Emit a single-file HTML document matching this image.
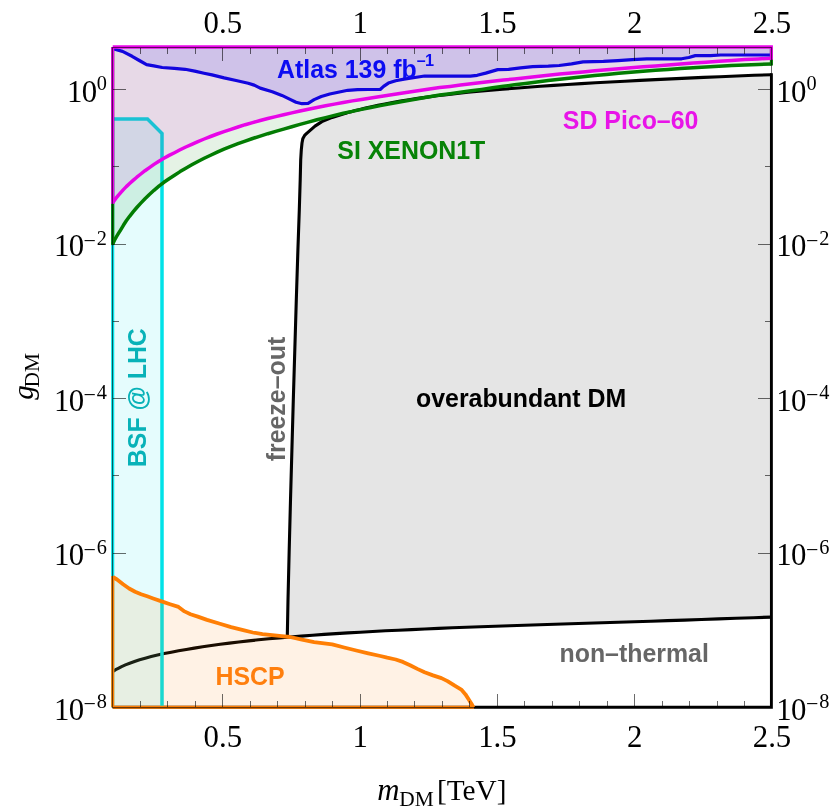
<!DOCTYPE html>
<html><head><meta charset="utf-8"><title>chart</title>
<style>html,body{margin:0;padding:0;background:#fff;}svg{display:block;will-change:transform;}</style>
</head><body>
<svg width="830" height="810" viewBox="0 0 830 810">
<rect width="830" height="810" fill="#fff"/>
<polygon points="287.3,636.2 288.0,600.0 289.2,550.0 290.5,500.0 291.9,450.0 293.3,400.0 294.8,350.0 296.3,300.0 297.9,250.0 299.3,210.0 300.2,180.0 300.7,160.0 301.3,149.9 302.0,143.0 302.9,138.4 304.6,135.4 307.0,133.1 315.0,126.1 321.9,121.6 332.2,117.4 344.0,113.7 345.2,113.4 347.7,112.6 351.1,111.7 355.2,110.6 360.0,109.4 365.4,108.0 371.4,106.7 377.9,105.3 384.9,103.9 392.4,102.5 400.4,101.1 408.8,99.7 417.7,98.4 427.0,97.1 436.7,95.8 446.7,94.6 457.2,93.4 468.0,92.3 479.2,91.2 490.8,90.2 502.7,89.2 515.0,88.2 527.6,87.2 540.5,86.3 553.8,85.4 567.4,84.5 581.3,83.6 595.5,82.8 610.1,82.0 624.9,81.2 640.0,80.4 655.4,79.6 671.2,78.9 687.2,78.1 703.5,77.4 720.0,76.7 736.9,76.0 754.0,75.3 771.4,74.7 771.4,617.1 753.6,617.7 736.0,618.3 718.6,618.9 701.4,619.5 684.4,620.1 667.5,620.6 650.9,621.2 634.4,621.7 618.1,622.2 602.1,622.7 586.2,623.2 570.5,623.7 555.0,624.2 539.7,624.7 524.7,625.2 509.8,625.7 495.1,626.2 480.6,626.8 466.4,627.3 452.3,627.8 438.5,628.4 424.9,629.0 411.5,629.6 398.3,630.2 385.4,630.8 372.7,631.5 360.2,632.2 347.9,632.9 335.9,633.6 324.1,634.4 312.6,635.2 301.3,636.1 290.2,637.0" fill="#e5e5e5"/>
<polyline points="287.3,636.2 288.0,600.0 289.2,550.0 290.5,500.0 291.9,450.0 293.3,400.0 294.8,350.0 296.3,300.0 297.9,250.0 299.3,210.0 300.2,180.0 300.7,160.0 301.3,149.9 302.0,143.0 302.9,138.4 304.6,135.4 307.0,133.1 315.0,126.1 321.9,121.6 332.2,117.4 344.0,113.7 345.2,113.4 347.7,112.6 351.1,111.7 355.2,110.6 360.0,109.4 365.4,108.0 371.4,106.7 377.9,105.3 384.9,103.9 392.4,102.5 400.4,101.1 408.8,99.7 417.7,98.4 427.0,97.1 436.7,95.8 446.7,94.6 457.2,93.4 468.0,92.3 479.2,91.2 490.8,90.2 502.7,89.2 515.0,88.2 527.6,87.2 540.5,86.3 553.8,85.4 567.4,84.5 581.3,83.6 595.5,82.8 610.1,82.0 624.9,81.2 640.0,80.4 655.4,79.6 671.2,78.9 687.2,78.1 703.5,77.4 720.0,76.7 736.9,76.0 754.0,75.3 771.4,74.7" fill="none" stroke="#000" stroke-width="3.1" stroke-linejoin="round"/>
<polyline points="112.7,671.6 113.7,671.0 115.6,669.7 118.3,668.3 121.6,666.6 125.4,664.9 129.7,663.2 134.5,661.5 139.6,659.8 145.2,658.2 151.2,656.6 157.5,655.1 164.2,653.6 171.3,652.2 178.6,650.8 186.3,649.4 194.3,648.1 202.7,646.8 211.3,645.5 220.2,644.3 229.4,643.1 238.8,642.0 248.6,640.9 258.6,639.8 268.9,638.8 279.4,637.9 290.2,637.0 301.3,636.1 312.6,635.2 324.1,634.4 335.9,633.6 347.9,632.9 360.2,632.2 372.7,631.5 385.4,630.8 398.3,630.2 411.5,629.6 424.9,629.0 438.5,628.4 452.3,627.8 466.4,627.3 480.6,626.8 495.1,626.2 509.8,625.7 524.7,625.2 539.7,624.7 555.0,624.2 570.5,623.7 586.2,623.2 602.1,622.7 618.1,622.2 634.4,621.7 650.9,621.2 667.5,620.6 684.4,620.1 701.4,619.5 718.6,618.9 736.0,618.3 753.6,617.7 771.4,617.1" fill="none" stroke="#000" stroke-width="3.1" stroke-linejoin="round"/>
<polyline points="771.4,73.2 771.4,707.3 112.7,707.3" fill="none" stroke="#000" stroke-width="2.9" stroke-linejoin="miter"/>
<polygon points="112.7,119.0 147.5,119.0 162.0,133.5 162.0,707.3 112.7,707.3" fill="#00e2e8" fill-opacity="0.1"/>
<polyline points="112.7,119.0 147.5,119.0 162.0,133.5 162.0,707.3" fill="none" stroke="#00e2e8" stroke-width="3.5" stroke-linejoin="miter"/>
<polyline points="112.7,117.2 112.7,707.3" fill="none" stroke="#00e2e8" stroke-width="3.1" stroke-linejoin="miter"/>
<polygon points="112.8,577.0 117.0,579.5 123.1,584.3 129.1,588.5 135.1,591.7 141.1,594.2 147.2,596.3 153.2,598.5 161.6,601.4 170.1,604.2 178.5,606.9 184.5,611.4 190.5,614.2 197.8,616.6 207.0,619.9 219.1,623.5 231.1,627.1 243.2,630.1 252.8,632.5 262.5,634.1 272.1,635.2 281.7,636.1 290.0,637.0 302.0,639.7 314.1,642.1 332.2,644.3 344.2,647.5 356.3,650.5 368.3,653.3 380.4,656.0 387.2,657.7 395.7,659.5 402.9,661.9 410.1,665.2 417.3,668.9 424.6,672.3 433.0,675.4 441.4,678.1 447.5,681.1 454.7,685.7 461.3,689.6 465.5,694.4 468.6,699.2 471.6,704.0 473.4,707.3 112.7,707.3" fill="#ff8000" fill-opacity="0.1"/>
<polyline points="112.8,577.0 117.0,579.5 123.1,584.3 129.1,588.5 135.1,591.7 141.1,594.2 147.2,596.3 153.2,598.5 161.6,601.4 170.1,604.2 178.5,606.9 184.5,611.4 190.5,614.2 197.8,616.6 207.0,619.9 219.1,623.5 231.1,627.1 243.2,630.1 252.8,632.5 262.5,634.1 272.1,635.2 281.7,636.1 290.0,637.0 302.0,639.7 314.1,642.1 332.2,644.3 344.2,647.5 356.3,650.5 368.3,653.3 380.4,656.0 387.2,657.7 395.7,659.5 402.9,661.9 410.1,665.2 417.3,668.9 424.6,672.3 433.0,675.4 441.4,678.1 447.5,681.1 454.7,685.7 461.3,689.6 465.5,694.4 468.6,699.2 471.6,704.0 473.4,707.3" fill="none" stroke="#ff7f05" stroke-width="3.8" stroke-linejoin="round"/>
<polyline points="112.7,576.0 112.7,707.3" fill="none" stroke="#ff7f05" stroke-width="3.1" stroke-linejoin="miter"/>
<polyline points="112.7,707.3 474.0,707.3" fill="none" stroke="#ff7f05" stroke-width="3.1" stroke-linejoin="miter"/>
<polygon points="112.7,244.1 113.3,242.7 114.5,240.2 116.2,237.1 118.3,233.7 120.7,229.8 123.4,225.3 126.3,220.8 129.6,216.3 133.1,211.9 136.8,207.5 140.8,203.1 145.0,198.8 149.4,194.5 154.0,190.3 158.9,186.2 163.9,182.3 169.1,178.7 174.5,175.2 180.1,171.6 185.8,168.2 191.8,164.8 197.9,161.5 204.2,158.3 210.6,155.2 217.2,152.1 224.0,149.1 230.9,146.3 238.0,143.7 245.2,141.1 252.6,138.5 260.2,136.1 267.8,133.7 275.7,131.4 283.6,129.1 291.8,126.7 300.0,124.4 308.4,122.1 316.9,119.8 325.6,117.6 334.4,115.4 343.3,113.3 352.4,111.4 361.6,109.4 370.9,107.5 380.4,105.6 390.0,103.8 399.7,102.0 409.5,100.2 419.5,98.5 429.5,96.8 439.7,95.1 450.1,93.7 460.5,92.2 471.1,90.8 481.7,89.4 492.5,87.8 503.4,86.3 514.5,84.8 525.6,83.4 536.9,82.0 548.2,80.6 559.7,79.3 571.3,78.0 583.0,76.8 594.8,75.6 606.7,74.4 618.8,73.3 630.9,72.3 643.1,71.2 655.5,70.3 668.0,69.4 680.5,68.5 693.2,67.7 706.0,67.0 718.9,66.3 731.8,65.6 744.9,65.0 758.1,64.5 771.4,64.0 771.4,47.0 112.7,47.0" fill="#008000" fill-opacity="0.1"/>
<polyline points="112.7,244.1 113.3,242.7 114.5,240.2 116.2,237.1 118.3,233.7 120.7,229.8 123.4,225.3 126.3,220.8 129.6,216.3 133.1,211.9 136.8,207.5 140.8,203.1 145.0,198.8 149.4,194.5 154.0,190.3 158.9,186.2 163.9,182.3 169.1,178.7 174.5,175.2 180.1,171.6 185.8,168.2 191.8,164.8 197.9,161.5 204.2,158.3 210.6,155.2 217.2,152.1 224.0,149.1 230.9,146.3 238.0,143.7 245.2,141.1 252.6,138.5 260.2,136.1 267.8,133.7 275.7,131.4 283.6,129.1 291.8,126.7 300.0,124.4 308.4,122.1 316.9,119.8 325.6,117.6 334.4,115.4 343.3,113.3 352.4,111.4 361.6,109.4 370.9,107.5 380.4,105.6 390.0,103.8 399.7,102.0 409.5,100.2 419.5,98.5 429.5,96.8 439.7,95.1 450.1,93.7 460.5,92.2 471.1,90.8 481.7,89.4 492.5,87.8 503.4,86.3 514.5,84.8 525.6,83.4 536.9,82.0 548.2,80.6 559.7,79.3 571.3,78.0 583.0,76.8 594.8,75.6 606.7,74.4 618.8,73.3 630.9,72.3 643.1,71.2 655.5,70.3 668.0,69.4 680.5,68.5 693.2,67.7 706.0,67.0 718.9,66.3 731.8,65.6 744.9,65.0 758.1,64.5 771.4,64.0" fill="none" stroke="#027c02" stroke-width="3.5" stroke-linejoin="round"/>
<polyline points="112.7,245.1 112.7,47.0" fill="none" stroke="#027c02" stroke-width="3.1" stroke-linejoin="miter"/>
<polyline points="771.4,65.5 771.4,47.0" fill="none" stroke="#027c02" stroke-width="3.1" stroke-linejoin="miter"/>
<polygon points="112.7,202.8 113.3,201.9 114.5,200.2 116.2,197.9 118.3,195.3 120.7,192.6 123.4,189.6 126.3,186.6 129.6,183.5 133.1,180.4 136.8,177.2 140.8,174.0 145.0,170.7 149.4,167.6 154.0,164.4 158.9,161.2 163.9,158.2 169.1,155.4 174.5,152.7 180.1,149.8 185.8,147.0 191.8,144.3 197.9,141.6 204.2,139.0 210.6,136.5 217.2,134.0 224.0,131.7 230.9,129.3 238.0,127.0 245.2,124.7 252.6,122.6 260.2,120.5 267.8,118.5 275.7,116.6 283.6,114.8 291.8,112.9 300.0,111.0 308.4,109.2 316.9,107.5 325.6,105.8 334.4,104.1 343.3,102.5 352.4,100.9 361.6,99.4 370.9,97.9 380.4,96.4 390.0,94.9 399.7,93.4 409.5,91.9 419.5,90.5 429.5,89.1 439.7,87.6 450.1,86.4 460.5,85.1 471.1,83.8 481.7,82.6 492.5,81.3 503.4,80.1 514.5,78.9 525.6,77.7 536.9,76.5 548.2,75.3 559.7,74.1 571.3,73.0 583.0,71.9 594.8,70.8 606.7,69.8 618.8,68.8 630.9,67.8 643.1,66.8 655.5,65.9 668.0,64.9 680.5,64.0 693.2,63.0 706.0,62.2 718.9,61.3 731.8,60.4 744.9,59.6 758.1,58.9 771.4,58.2 771.4,47.0 112.7,47.0" fill="#ff00ff" fill-opacity="0.1"/>
<polyline points="112.7,202.8 113.3,201.9 114.5,200.2 116.2,197.9 118.3,195.3 120.7,192.6 123.4,189.6 126.3,186.6 129.6,183.5 133.1,180.4 136.8,177.2 140.8,174.0 145.0,170.7 149.4,167.6 154.0,164.4 158.9,161.2 163.9,158.2 169.1,155.4 174.5,152.7 180.1,149.8 185.8,147.0 191.8,144.3 197.9,141.6 204.2,139.0 210.6,136.5 217.2,134.0 224.0,131.7 230.9,129.3 238.0,127.0 245.2,124.7 252.6,122.6 260.2,120.5 267.8,118.5 275.7,116.6 283.6,114.8 291.8,112.9 300.0,111.0 308.4,109.2 316.9,107.5 325.6,105.8 334.4,104.1 343.3,102.5 352.4,100.9 361.6,99.4 370.9,97.9 380.4,96.4 390.0,94.9 399.7,93.4 409.5,91.9 419.5,90.5 429.5,89.1 439.7,87.6 450.1,86.4 460.5,85.1 471.1,83.8 481.7,82.6 492.5,81.3 503.4,80.1 514.5,78.9 525.6,77.7 536.9,76.5 548.2,75.3 559.7,74.1 571.3,73.0 583.0,71.9 594.8,70.8 606.7,69.8 618.8,68.8 630.9,67.8 643.1,66.8 655.5,65.9 668.0,64.9 680.5,64.0 693.2,63.0 706.0,62.2 718.9,61.3 731.8,60.4 744.9,59.6 758.1,58.9 771.4,58.2" fill="none" stroke="#e805e8" stroke-width="3.5" stroke-linejoin="round"/>
<polygon points="112.7,48.2 114.0,49.0 122.5,51.4 132.1,56.3 139.3,60.5 146.6,64.7 153.8,65.9 162.2,67.5 174.3,68.3 185.1,69.3 194.7,71.1 204.0,73.2 212.0,74.9 224.1,77.9 236.1,80.5 248.2,83.3 254.2,85.1 260.2,88.1 272.3,91.7 281.9,95.4 289.6,99.1 296.0,102.2 302.0,103.7 308.1,103.3 314.1,99.6 321.3,96.5 329.8,94.0 338.2,92.2 347.8,90.3 357.5,89.6 368.3,89.5 380.2,89.5 383.6,86.4 388.4,83.1 395.7,80.7 404.1,79.1 414.9,77.5 424.6,76.0 434.2,76.1 452.3,76.1 470.4,76.1 477.2,75.3 485.7,73.1 497.7,69.6 508.6,69.3 520.6,67.8 532.7,66.6 548.3,66.1 559.2,65.5 571.6,63.9 583.1,61.9 603.4,61.4 617.8,60.6 632.3,59.6 646.7,58.9 661.2,58.8 681.6,58.8 688.8,57.5 695.3,55.6 710.5,55.6 720.6,55.0 742.3,55.0 770.5,55.0 771.4,47.0 112.7,47.0" fill="#0000ff" fill-opacity="0.1"/>
<polyline points="112.7,48.2 114.0,49.0 122.5,51.4 132.1,56.3 139.3,60.5 146.6,64.7 153.8,65.9 162.2,67.5 174.3,68.3 185.1,69.3 194.7,71.1 204.0,73.2 212.0,74.9 224.1,77.9 236.1,80.5 248.2,83.3 254.2,85.1 260.2,88.1 272.3,91.7 281.9,95.4 289.6,99.1 296.0,102.2 302.0,103.7 308.1,103.3 314.1,99.6 321.3,96.5 329.8,94.0 338.2,92.2 347.8,90.3 357.5,89.6 368.3,89.5 380.2,89.5 383.6,86.4 388.4,83.1 395.7,80.7 404.1,79.1 414.9,77.5 424.6,76.0 434.2,76.1 452.3,76.1 470.4,76.1 477.2,75.3 485.7,73.1 497.7,69.6 508.6,69.3 520.6,67.8 532.7,66.6 548.3,66.1 559.2,65.5 571.6,63.9 583.1,61.9 603.4,61.4 617.8,60.6 632.3,59.6 646.7,58.9 661.2,58.8 681.6,58.8 688.8,57.5 695.3,55.6 710.5,55.6 720.6,55.0 742.3,55.0 770.5,55.0" fill="none" stroke="#1205de" stroke-width="3.2" stroke-linejoin="round"/>
<polyline points="112.7,203.8 112.7,47.0" fill="none" stroke="#e805e8" stroke-width="3.1" stroke-linejoin="miter"/>
<polyline points="112.7,47.0 772.9,47.0" fill="none" stroke="#e805e8" stroke-width="3.6" stroke-linejoin="miter"/>
<polyline points="771.4,47.0 771.4,59.7" fill="none" stroke="#e805e8" stroke-width="3.1" stroke-linejoin="miter"/>
<g stroke="#000" stroke-opacity="0.58" stroke-width="1" fill="none">
<rect x="112.5" y="47.5" width="659.0" height="660.0"/>
<path d="M140.5,48.0v6 M140.5,707.0v-6"/>
<path d="M167.5,48.0v6 M167.5,707.0v-6"/>
<path d="M195.5,48.0v6 M195.5,707.0v-6"/>
<path d="M222.5,48.0v13 M222.5,707.0v-13"/>
<path d="M250.5,48.0v6 M250.5,707.0v-6"/>
<path d="M277.5,48.0v6 M277.5,707.0v-6"/>
<path d="M305.5,48.0v6 M305.5,707.0v-6"/>
<path d="M332.5,48.0v6 M332.5,707.0v-6"/>
<path d="M360.5,48.0v13 M360.5,707.0v-13"/>
<path d="M387.5,48.0v6 M387.5,707.0v-6"/>
<path d="M414.5,48.0v6 M414.5,707.0v-6"/>
<path d="M442.5,48.0v6 M442.5,707.0v-6"/>
<path d="M469.5,48.0v6 M469.5,707.0v-6"/>
<path d="M497.5,48.0v13 M497.5,707.0v-13"/>
<path d="M524.5,48.0v6 M524.5,707.0v-6"/>
<path d="M552.5,48.0v6 M552.5,707.0v-6"/>
<path d="M579.5,48.0v6 M579.5,707.0v-6"/>
<path d="M607.5,48.0v6 M607.5,707.0v-6"/>
<path d="M634.5,48.0v13 M634.5,707.0v-13"/>
<path d="M662.5,48.0v6 M662.5,707.0v-6"/>
<path d="M689.5,48.0v6 M689.5,707.0v-6"/>
<path d="M717.5,48.0v6 M717.5,707.0v-6"/>
<path d="M744.5,48.0v6 M744.5,707.0v-6"/>
<path d="M113.0,89.5h13 M771.0,89.5h-13"/>
<path d="M113.0,166.5h6 M771.0,166.5h-6"/>
<path d="M113.0,244.5h13 M771.0,244.5h-13"/>
<path d="M113.0,321.5h6 M771.0,321.5h-6"/>
<path d="M113.0,398.5h13 M771.0,398.5h-13"/>
<path d="M113.0,475.5h6 M771.0,475.5h-6"/>
<path d="M113.0,553.5h13 M771.0,553.5h-13"/>
</g>
<g font-family="'Liberation Sans', sans-serif" font-weight="bold" font-size="24.9px">
<text x="277" y="78" fill="#0c0cf2">Atlas 139 fb</text>
<text x="416.8" y="65.7" fill="#0c0cf2" font-size="16px">–</text>
<text x="424.9" y="66.3" fill="#0c0cf2" font-size="16.3px">1</text>
<text x="337.3" y="159.3" fill="#078307">SI XENON1T</text>
<text x="562.8" y="128.8" fill="#e814e8">SD Pico–60</text>
<text x="416" y="406.6" fill="#000">overabundant DM</text>
<text x="559.5" y="661.5" fill="#666">non–thermal</text>
<text x="215.5" y="685.2" fill="#ff7f0e">HSCP</text>
<text transform="translate(145.7,467.2) rotate(-90)" fill="#08b2b8">BSF @ LHC</text>
<text transform="translate(285.1,461.3) rotate(-90)" fill="#666">freeze–out</text>
</g>
<g font-family="'Liberation Serif', serif" font-size="30.8px" fill="#000">
<text x="222.8" y="33.2" text-anchor="middle">0.5</text>
<text x="222.8" y="746.8" text-anchor="middle">0.5</text>
<text x="360.1" y="33.2" text-anchor="middle">1</text>
<text x="360.1" y="746.8" text-anchor="middle">1</text>
<text x="497.4" y="33.2" text-anchor="middle">1.5</text>
<text x="497.4" y="746.8" text-anchor="middle">1.5</text>
<text x="634.7" y="33.2" text-anchor="middle">2</text>
<text x="634.7" y="746.8" text-anchor="middle">2</text>
<text x="772.0" y="33.2" text-anchor="middle">2.5</text>
<text x="772.0" y="746.8" text-anchor="middle">2.5</text>
<text x="96.4" y="101.9" text-anchor="end" letter-spacing="-0.7">10</text>
<text x="106.9" y="90.3" text-anchor="end" font-size="20.3px">0</text>
<text x="776.3" y="101.9" letter-spacing="-0.7">10</text>
<text x="806.6" y="90.3" font-size="20.3px">0</text>
<text x="83.4" y="256.4" text-anchor="end" letter-spacing="-0.7">10</text>
<text x="83.4" y="247.7" font-size="22.0px">−</text>
<text x="106.9" y="244.8" text-anchor="end" font-size="20.3px">2</text>
<text x="776.3" y="256.4" letter-spacing="-0.7">10</text>
<text x="806.1" y="247.7" font-size="22.0px">−</text>
<text x="819.2" y="244.8" font-size="20.3px">2</text>
<text x="83.4" y="410.9" text-anchor="end" letter-spacing="-0.7">10</text>
<text x="83.4" y="402.2" font-size="22.0px">−</text>
<text x="106.9" y="399.3" text-anchor="end" font-size="20.3px">4</text>
<text x="776.3" y="410.9" letter-spacing="-0.7">10</text>
<text x="806.1" y="402.2" font-size="22.0px">−</text>
<text x="819.2" y="399.3" font-size="20.3px">4</text>
<text x="83.4" y="565.4" text-anchor="end" letter-spacing="-0.7">10</text>
<text x="83.4" y="556.7" font-size="22.0px">−</text>
<text x="106.9" y="553.8" text-anchor="end" font-size="20.3px">6</text>
<text x="776.3" y="565.4" letter-spacing="-0.7">10</text>
<text x="806.1" y="556.7" font-size="22.0px">−</text>
<text x="819.2" y="553.8" font-size="20.3px">6</text>
<text x="83.4" y="719.9" text-anchor="end" letter-spacing="-0.7">10</text>
<text x="83.4" y="711.2" font-size="22.0px">−</text>
<text x="106.9" y="708.3" text-anchor="end" font-size="20.3px">8</text>
<text x="776.3" y="719.9" letter-spacing="-0.7">10</text>
<text x="806.1" y="711.2" font-size="22.0px">−</text>
<text x="819.2" y="708.3" font-size="20.3px">8</text>
<text x="377.3" y="799.5"><tspan font-style="italic">m</tspan><tspan font-size="21.4px" dy="6" dx="-0.3">DM</tspan><tspan font-size="29.3px" dy="-6" dx="3.2">[TeV]</tspan></text>
<text transform="translate(33.3,399.8) rotate(-90)"><tspan font-style="italic" font-size="29px">g</tspan><tspan font-size="21.4px" dy="5.4" dx="-2.2">DM</tspan></text>
</g>
</svg>
</body></html>
